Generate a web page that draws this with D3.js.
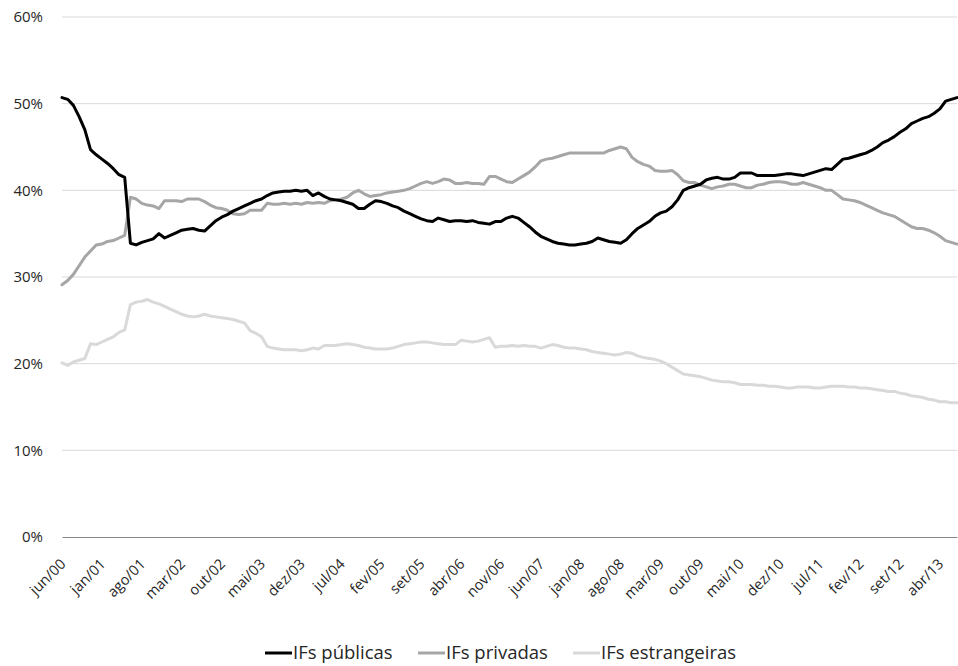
<!DOCTYPE html>
<html>
<head>
<meta charset="utf-8">
<script src="https://cdn.jsdelivr.net/npm/d3@7"></script>
<style>
  html, body { margin: 0; padding: 0; background: #fff; }
  svg { display: block; font-family: "Open Sans", "Noto Sans", sans-serif; }
</style>
</head>
<body>
<svg id="chart" width="958" height="666"></svg>
<script>
// Monthly series, June 2000 to July 2013 (share of total, %)
const monthNames = ["jan","fev","mar","abr","mai","jun","jul","ago","set","out","nov","dez"];
const startMonth = 5;   // jun
const startYear = 2000;

const publicas = [
  50.7,50.5,49.8,48.5,47.0,44.7,44.1,43.6,43.1,42.5,41.8,41.5,33.9,33.7,34.0,34.2,34.4,35.0,34.5,34.8,
  35.1,35.4,35.5,35.6,35.4,35.3,35.9,36.5,36.9,37.2,37.6,37.9,38.2,38.5,38.8,39.0,39.4,39.7,39.8,39.9,
  39.9,40.0,39.9,40.0,39.4,39.7,39.3,39.0,38.9,38.8,38.6,38.4,37.9,37.9,38.4,38.8,38.7,38.5,38.2,38.0,
  37.6,37.3,37.0,36.7,36.5,36.4,36.8,36.6,36.4,36.5,36.5,36.4,36.5,36.3,36.2,36.1,36.4,36.4,36.8,37.0,
  36.8,36.3,35.8,35.2,34.7,34.4,34.1,33.9,33.8,33.7,33.7,33.8,33.9,34.1,34.5,34.3,34.1,34.0,33.9,34.3,
  35.0,35.6,36.0,36.4,37.0,37.4,37.6,38.1,38.9,40.0,40.3,40.5,40.7,41.2,41.4,41.5,41.3,41.3,41.5,42.0,
  42.0,42.0,41.7,41.7,41.7,41.7,41.8,41.9,41.9,41.8,41.7,41.9,42.1,42.3,42.5,42.4,43.0,43.6,43.7,43.9,
  44.1,44.3,44.6,45.0,45.5,45.8,46.2,46.7,47.1,47.7,48.0,48.3,48.5,48.9,49.4,50.3,50.5,50.7
];

const privadas = [
  29.1,29.6,30.3,31.3,32.3,33.0,33.7,33.8,34.1,34.2,34.5,34.8,39.2,39.0,38.5,38.3,38.2,37.9,38.8,38.8,
  38.8,38.7,39.0,39.0,39.0,38.7,38.3,38.0,37.9,37.7,37.3,37.2,37.3,37.7,37.7,37.7,38.5,38.4,38.4,38.5,
  38.4,38.5,38.4,38.6,38.5,38.6,38.5,38.8,38.9,39.0,39.2,39.7,40.0,39.6,39.3,39.4,39.5,39.7,39.8,39.9,
  40.0,40.2,40.5,40.8,41.0,40.8,41.0,41.3,41.2,40.8,40.8,40.9,40.8,40.8,40.7,41.6,41.6,41.3,41.0,40.9,
  41.3,41.7,42.1,42.7,43.4,43.6,43.7,43.9,44.1,44.3,44.3,44.3,44.3,44.3,44.3,44.3,44.6,44.8,45.0,44.8,
  43.8,43.3,43.0,42.8,42.3,42.2,42.2,42.3,41.8,41.1,40.9,40.9,40.6,40.4,40.2,40.4,40.5,40.7,40.7,40.5,
  40.3,40.3,40.6,40.7,40.9,41.0,41.0,40.9,40.7,40.7,40.9,40.7,40.5,40.3,40.0,40.0,39.5,39.0,38.9,38.8,
  38.6,38.3,38.0,37.7,37.4,37.2,37.0,36.6,36.2,35.8,35.6,35.6,35.4,35.1,34.7,34.2,34.0,33.8
];

const estrangeiras = [
  20.1,19.8,20.2,20.4,20.6,22.3,22.2,22.5,22.8,23.1,23.6,23.9,26.8,27.1,27.2,27.4,27.1,26.9,26.6,26.3,
  26.0,25.7,25.5,25.4,25.5,25.7,25.5,25.4,25.3,25.2,25.1,24.9,24.7,23.8,23.5,23.1,22.0,21.8,21.7,21.6,
  21.6,21.6,21.5,21.6,21.8,21.7,22.1,22.1,22.1,22.2,22.3,22.2,22.1,21.9,21.8,21.7,21.7,21.7,21.8,22.0,
  22.2,22.3,22.4,22.5,22.5,22.4,22.3,22.2,22.2,22.2,22.7,22.6,22.5,22.6,22.8,23.0,21.9,22.0,22.0,22.1,
  22.0,22.1,22.0,22.0,21.8,22.0,22.2,22.1,21.9,21.8,21.8,21.7,21.6,21.4,21.3,21.2,21.1,21.0,21.1,21.3,
  21.2,20.9,20.7,20.6,20.5,20.3,20.0,19.6,19.2,18.8,18.7,18.6,18.5,18.3,18.1,18.0,17.9,17.9,17.8,17.6,
  17.6,17.6,17.5,17.5,17.4,17.4,17.3,17.2,17.2,17.3,17.3,17.3,17.2,17.2,17.3,17.4,17.4,17.4,17.3,17.3,
  17.2,17.2,17.1,17.0,16.9,16.8,16.8,16.6,16.5,16.3,16.2,16.1,15.9,15.8,15.6,15.6,15.5,15.5
];

const tickLabels = ["jun/00","jan/01","ago/01","mar/02","out/02","mai/03","dez/03","jul/04","fev/05",
  "set/05","abr/06","nov/06","jun/07","jan/08","ago/08","mar/09","out/09","mai/10","dez/10","jul/11",
  "fev/12","set/12","abr/13"];
const yTicks = [0, 10, 20, 30, 40, 50, 60];

const seriesNames = ["IFs públicas", "IFs privadas", "IFs estrangeiras"];
const seriesColors = ["#000000", "#a6a6a6", "#d9d9d9"];
const seriesValues = [publicas, privadas, estrangeiras];

// Category labels "mmm/yy" for every month
const categories = publicas.map((_, i) => {
  const m = (startMonth + i) % 12;
  const yr = startYear + Math.floor((startMonth + i) / 12);
  return monthNames[m] + "/" + String(yr % 100).padStart(2, "0");
});

const svg = d3.select("#chart");
const plotLeft = 62, plotRight = 957, plotTop = 17, plotBottom = 537;

const x = d3.scalePoint().domain(categories).range([plotLeft, plotRight]);
const y = d3.scaleLinear().domain([0, 60]).range([plotBottom, plotTop]);

// Horizontal gridlines
svg.append("g")
  .selectAll("line")
  .data(yTicks.filter(d => d > 0))
  .join("line")
  .attr("x1", plotLeft).attr("x2", plotRight)
  .attr("y1", d => y(d)).attr("y2", d => y(d))
  .attr("stroke", "#d9d9d9").attr("stroke-width", 1);

// Y axis labels
const yAxis = d3.axisLeft(y).tickValues(yTicks).tickFormat(d => d + "%").tickSize(0).tickPadding(19);
svg.append("g")
  .attr("transform", `translate(${plotLeft},0)`)
  .call(yAxis)
  .call(g => g.select(".domain").remove())
  .call(g => g.selectAll("text")
    .attr("font-size", 15).attr("fill", "#262626")
    .attr("font-family", "'Open Sans', sans-serif"));

// X axis with rotated labels
const xAxis = d3.axisBottom(x).tickValues(tickLabels).tickSize(0).tickPadding(0);
svg.append("g")
  .attr("transform", `translate(0,${plotBottom})`)
  .call(xAxis)
  .call(g => g.select(".domain").attr("stroke", "#868686").attr("stroke-width", 1))
  .call(g => g.selectAll("text")
    .attr("font-size", 14.5).attr("fill", "#262626")
    .attr("font-family", "'Open Sans', sans-serif")
    .attr("text-anchor", "end")
    .attr("dy", null)
    .attr("y", 0)
    .attr("transform", "translate(4,28) rotate(-45)"));

// Series lines
const line = d3.line()
  .x((d, i) => x(categories[i]))
  .y(d => y(d));

svg.append("g")
  .selectAll("path")
  .data(seriesValues.map((v, i) => ({ v, c: seriesColors[i] })).reverse())
  .join("path")
  .attr("d", d => line(d.v))
  .attr("fill", "none")
  .attr("stroke", d => d.c)
  .attr("stroke-width", 3)
  .attr("stroke-linejoin", "round")
  .attr("stroke-linecap", "round");

// Legend
const legendX = [265, 418, 573];
const legend = svg.append("g").attr("transform", "translate(0,653)");
const items = legend.selectAll("g").data(seriesNames).join("g")
  .attr("transform", (d, i) => `translate(${legendX[i]},0)`);
items.append("line")
  .attr("x1", 0).attr("x2", 27).attr("y1", 0).attr("y2", 0)
  .attr("stroke", (d, i) => seriesColors[i]).attr("stroke-width", 3);
items.append("text")
  .attr("x", 28).attr("y", 0).attr("dy", "0.35em")
  .attr("font-size", 18.5).attr("fill", "#262626")
  .attr("font-family", "'Open Sans', sans-serif")
  .text(d => d);
</script>
</body>
</html>
